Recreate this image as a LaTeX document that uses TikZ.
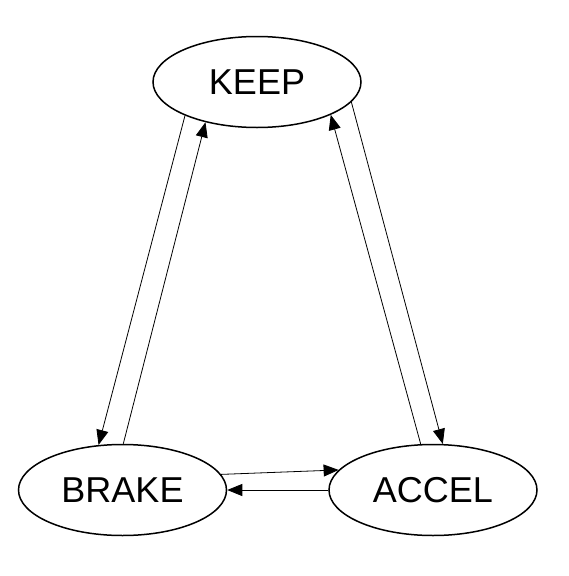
\documentclass[tikz,border=0pt]{standalone}
\usepackage{fontspec}
\setmainfont{Liberation Sans}
\usetikzlibrary{shapes.geometric,arrows.meta}

\begin{document}
\begin{tikzpicture}[x=1pt,y=-1pt,
    phase/.style={ellipse, draw, line width=1.5pt, minimum width=208pt,
      minimum height=91pt, inner sep=0pt, font=\fontsize{36}{40}\selectfont},
    link/.style={line width=0.8pt, -{Triangle[length=15pt,width=12pt]}}]
    \useasboundingbox (0,0) rectangle (568,576);
    % Draw the three states
    \node[phase] (keep) at (257,82) {KEEP};
    \node[phase] (brake) at (122.5,490) {BRAKE};
    \node[phase] (accel) at (433,490) {ACCEL};
    % Draw the links between keep and brake
    \draw[link] (keep.205) -- (brake.118.6);
    \draw[link] (brake.89.4) -- (keep.218.7);
    % Draw the links between keep and accel
    \draw[link] (keep.348.7) -- (accel.78.7);
    \draw[link] (accel.105) -- (keep.336.4);
    % Draw the links between brake and accel
    \draw[link] (brake.9.9) -- (accel.168.7);
    \draw[link] (accel.180) -- (brake.0);
\end{tikzpicture}
\end{document}
